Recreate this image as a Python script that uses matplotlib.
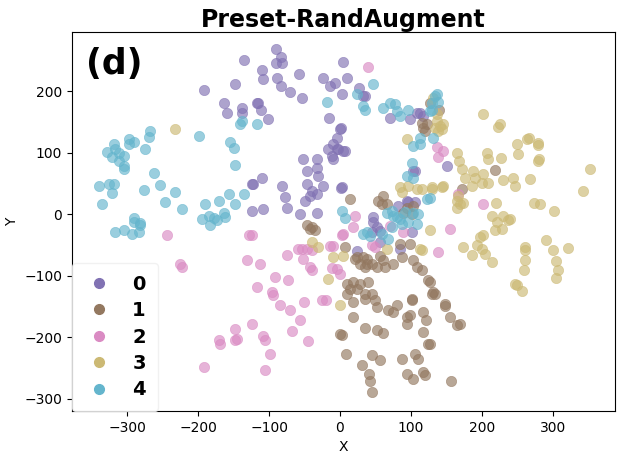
import matplotlib.pyplot as plt
from matplotlib.lines import Line2D

# class colours (seaborn "deep" subset)
colors = ['#8172B3', '#937860', '#DA8BC3', '#CCB974', '#64B5CD']
labels = ['0', '1', '2', '3', '4']

# class 0 (purple)
pts0 = [(-136, 250), (-148, 211), (-192, 201), (-164, 180), (-160, 164), (-138, 172), (-138, 164),
        (-117, 180), (-124, 49), (-124, 5), (-90, 268), (-83, 256), (-90, 245), (-82, 245),
        (-110, 234), (-109, 219), (-89, 221), (-83, 209), (-58, 227), (-71, 198), (-54, 188),
        (-116, 180), (-112, 169), (-102, 154), (4, 248), (-24, 221), (-14, 208), (-7, 213),
        (10, 221), (3, 195), (27, 205), (35, 192), (-16, 156), (1, 140), (-4, 123), (-10, 114),
        (-17, 106), (-4, 106), (-11, 94), (7, 102), (-52, 89), (-32, 89), (-32, 75), (-31, 62),
        (-47, 70), (-47, 49), (-40, 37), (-42, 29), (-24, 45), (-49, 21), (-32, 32), (1, 42),
        (-82, 45), (-78, 28), (-75, 10), (-110, 58), (-123, 49), (-109, 8), (-56, 0), (-32, 2),
        (71, 156), (99, 154), (109, 164), (117, 159), (103, 70), (82, 13), (113, 165), (-3, 106),
        (4, 102), (-10, 89), (3, 44), (151, 78), (106, 70), (95, 21), (47, -5), (47, -13),
        (52, -21), (45, -29), (56, -28), (96, 19), (106, 19), (85, -57), (24, -60), (102, -29),
        (56, -45), (32, 192), (0, 138)]

# class 1 (brown)
pts1 = [(-47, -18), (-40, -21), (-35, -26), (-42, -24), (7, -54), (24, -70), (38, -73), (45, -81),
        (52, -86), (35, -86), (61, -75), (64, -86), (75, -81), (88, -70), (99, -49), (85, -49),
        (103, -75), (109, -86), (116, -91), (124, -107), (130, -130), (10, -114), (18, -110),
        (14, -122), (24, -122), (35, -130), (28, -114), (40, -110), (10, -130), (35, -138),
        (45, -130), (49, -140), (18, -143), (52, -151), (68, -156), (80, -148), (75, -159),
        (102, -140), (117, -159), (95, -167), (99, -164), (121, -172), (18, -167), (95, -179),
        (35, -185), (52, -188), (61, -193), (0, -195), (3, -196), (117, -191), (124, -211),
        (8, -227), (45, -229), (56, -237), (88, -235), (106, -227), (110, -235), (31, -245),
        (41, -260), (42, -271), (95, -260), (103, -268), (117, -256), (120, -261), (45, -289),
        (134, -130), (148, -146), (155, -167), (165, -180), (169, -179), (127, -211), (157, -271),
        (127, -110), (219, 71), (172, 41), (140, 170), (117, 140), (116, 148), (14, 24), (54, 21),
        (61, 29), (66, 16), (59, 16), (95, 10), (103, 13), (89, 2), (127, 180), (120, 135),
        (123, 146), (102, 0), (21, -73), (32, -70), (38, -81), (28, -81), (56, -68), (131, -127),
        (148, -149), (102, -138)]

# class 2 (pink)
pts2 = [(-244, -34), (-226, -81), (-223, -86), (-129, -34), (-131, -75), (-117, -118), (-124, -179),
        (-148, -187), (-145, -203), (-148, -205), (-171, -205), (-169, -211), (-192, -248),
        (-124, -34), (-113, -81), (-75, -67), (-54, -57), (-47, -57), (-40, -58), (-59, -57),
        (-52, -73), (-42, -86), (-40, -91), (-14, -52), (-11, -88), (0, -97), (3, -34), (18, -21),
        (-92, -102), (-73, -107), (-96, -127), (-95, -131), (-25, -140), (-20, -140), (-85, -148),
        (-71, -156), (-51, -143), (-56, -172), (-68, -190), (-45, -206), (-109, -198),
        (-106, -205), (-99, -227), (-106, -253), (45, -50), (21, -3), (4, -32), (-10, -52),
        (-4, -89), (49, -54), (89, -29), (138, -62), (155, -24), (71, -19), (137, 109),
        (145, 102), (138, 93), (167, 32), (202, 16), (40, 239)]

# class 3 (khaki)
pts3 = [(202, 162), (226, 146), (223, 141), (266, 123), (264, 122), (279, 115), (280, 112),
        (250, 114), (251, 97), (208, 99), (209, 89), (227, 91), (165, 99), (168, 86), (172, 73),
        (177, 58), (188, 70), (191, 58), (202, 65), (201, 50), (209, 50), (230, 55), (244, 58),
        (247, 45), (268, 57), (280, 86), (281, 89), (353, 73), (343, 37), (145, 45), (130, 41),
        (186, 45), (165, 21), (165, 10), (169, 16), (174, 18), (167, 29), (220, 18), (273, 18),
        (282, 16), (302, 5), (215, -3), (230, -3), (240, -8), (137, 151), (141, 143), (145, 146),
        (134, 140), (138, 135), (144, 138), (137, 162), (127, -26), (222, -13), (237, -10),
        (219, -26), (229, -24), (202, -34), (198, -37), (174, -54), (186, -66), (193, -50),
        (201, -57), (205, -65), (215, -78), (261, -54), (261, -58), (261, -75), (260, -91),
        (247, -114), (250, -115), (257, -125), (290, -42), (301, -58), (322, -55), (305, -76),
        (308, -91), (305, -104), (95, 122), (85, 44), (96, 45), (109, 41), (116, 41), (130, 44),
        (144, 44), (88, 36), (131, 188), (-40, -45), (-31, -54), (-10, -70), (4, -68), (-17, -105),
        (0, -148), (66, -57), (116, -58), (113, -57), (-233, 138)]

# class 4 (cyan)
pts4 = [(-268, 135), (-270, 125), (-298, 122), (-291, 118), (-297, 114), (-319, 114), (-329, 101),
        (-322, 93), (-312, 99), (-305, 94), (-311, 86), (-305, 78), (-304, 73), (-318, 106),
        (-275, 106), (-263, 67), (-340, 45), (-326, 49), (-319, 49), (-322, 34), (-336, 16),
        (-277, 39), (-254, 47), (-247, 19), (-232, 36), (-223, 8), (-291, -6), (-282, -15),
        (-199, 127), (-155, 118), (-150, 107), (-148, 80), (-138, 151), (-141, 146), (-117, 146),
        (-157, 32), (-148, 16), (-164, 2), (-171, 21), (-191, 16), (-185, -3), (-177, -6),
        (-136, 32), (-318, -29), (-304, -26), (-291, -13), (-294, -32), (-282, -18), (-284, -29),
        (-195, -8), (-184, -18), (-174, -10), (-162, -5), (-18, 182), (24, 195), (32, 175),
        (35, 170), (47, 211), (61, 172), (71, 180), (78, 179), (80, 167), (96, 170), (85, 159),
        (113, 123), (103, 110), (113, 114), (102, 83), (95, 62), (103, 58), (134, 192), (130, 180),
        (127, 167), (137, 195), (138, 183), (130, 170), (131, 123), (127, 26), (3, 5), (7, -6),
        (66, 2), (75, -3), (85, -8), (103, 2), (110, 0), (73, 5), (80, -5), (92, 3), (96, -13),
        (109, -16), (88, -16), (38, -29), (42, -36), (32, -32), (59, -32), (68, -41), (73, -21),
        (123, 24)]

groups = [pts0, pts1, pts2, pts3, pts4]

fig = plt.figure(figsize=(6.19, 4.55), dpi=100)
ax = fig.add_axes([0.1163, 0.0967, 0.8773, 0.833])

for pts, c in zip(groups, colors):
    xs = [p[0] for p in pts]
    ys = [p[1] for p in pts]
    ax.scatter(xs, ys, s=55, color=c, alpha=0.65, edgecolors=c, linewidths=0.5)

ax.set_xlim(-378, 388)
ax.set_ylim(-320, 296)
ax.set_xticks([-300, -200, -100, 0, 100, 200, 300])
ax.set_yticks([-300, -200, -100, 0, 100, 200])
ax.set_xlabel('X')
ax.set_ylabel('Y')
ax.set_title('Preset-RandAugment', fontsize=17, fontweight='bold', pad=3)
ax.text(0.025, 0.96, '(d)', transform=ax.transAxes, fontsize=25, fontweight='bold',
        va='top', ha='left')

handles = [Line2D([], [], marker='o', linestyle='', color=c, markersize=7) for c in colors]
leg = ax.legend(handles, labels, loc='lower left', borderaxespad=0.0, handletextpad=0.9,
                labelspacing=0.38, prop={'weight': 'bold', 'size': 14}, framealpha=0.8,
                borderpad=0.6, handlelength=1.6)
leg.get_frame().set_edgecolor('#eeeeee')

fig.savefig('out.png', dpi=100)
